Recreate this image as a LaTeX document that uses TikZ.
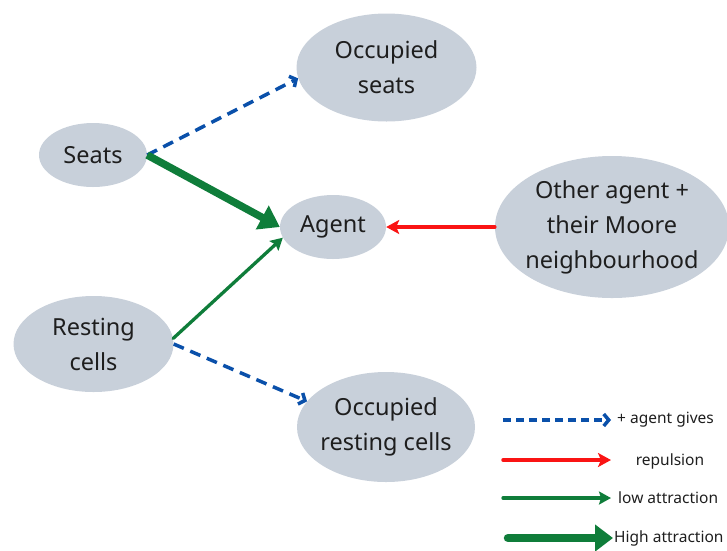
\documentclass[tikz,border=0pt]{standalone}
\usepackage{fontspec}
\setmainfont{Noto Sans}
\usetikzlibrary{shapes.geometric,arrows.meta}
\definecolor{ellfill}{RGB}{200,208,218}
\definecolor{myblue}{RGB}{10,80,170}
\definecolor{mygreen}{RGB}{15,125,58}
\definecolor{myred}{RGB}{250,20,20}
\definecolor{txt}{RGB}{30,30,30}
\begin{document}
\begin{tikzpicture}[x=1pt,y=-1pt,
  bub/.style={ellipse, fill=ellfill, draw=none, inner xsep=-6pt, inner ysep=0pt,
    text=txt, font=\fontsize{23.5}{35}\selectfont, align=center},
  legtext/.style={text=txt, font=\fontsize{15.5}{18}\selectfont, inner sep=0pt},
  dasharrow/.style={draw=myblue, line width=3.5pt, dash pattern=on 11pt off 7pt,
    -{Straight Barb[length=5pt,width=12pt]}},
  dashleg/.style={draw=myblue, line width=3.5pt, dash pattern=on 8pt off 5pt,
    -{Straight Barb[length=5pt,width=12pt]}},
  redarrow/.style={draw=myred, line width=3.5pt, line cap=round,
    -{Stealth[length=13pt,width=14pt,inset=3pt]}},
  thingreen/.style={draw=mygreen, line width=3.3pt, line cap=round,
    -{Stealth[length=12pt,width=13pt,inset=2pt]}},
  thickgreen/.style={draw=mygreen, line width=7.5pt,
    -{Triangle[length=20pt,width=26pt]}},
  thickleg/.style={draw=mygreen, line width=8.5pt, line cap=round,
    -{Triangle[length=18pt,width=26pt]}}
]
\useasboundingbox (0,0) rectangle (727,550);

% bubbles
\node[bub, minimum width=108pt, minimum height=64pt] (seats) at (93,155) {Seats};
\node[bub, minimum width=180pt, minimum height=108pt] (occseats) at (386.5,67.5) {Occupied\\seats};
\node[bub, minimum width=106pt, minimum height=64pt] (agent) at (333,227) {Agent};
\node[bub, minimum width=234pt, minimum height=142pt] (other) at (612,227) {Other agent +\\their Moore\\neighbourhood};
\node[bub, minimum width=160pt, minimum height=96pt] (rest) at (93.5,344) {Resting\\cells};
\node[bub, minimum width=178pt, minimum height=110pt] (occrest) at (386,427) {Occupied\\resting cells};

% connectors
\draw[dasharrow] (seats.east) -- (occseats.187);
\draw[thickgreen] (seats.east) -- (agent.west);
\draw[thingreen] (rest.4) -- (agent.192);
\draw[dasharrow] (rest.east) -- (occrest.162);
\draw[redarrow] (other.west) -- (agent.east);

% legend
\coordinate (l1a) at (503,420); \coordinate (l1b) at (611,420);
\coordinate (l2a) at (503,460); \coordinate (l2b) at (611,460);
\coordinate (l3a) at (503,498); \coordinate (l3b) at (611,498);
\coordinate (l4a) at (508,538); \coordinate (l4b) at (613,538);
\draw[dashleg] (l1a) -- (l1b);
\draw[redarrow] (l2a) -- (l2b);
\draw[thingreen] (l3a) -- (l3b);
\draw[thickleg] (l4a) -- (l4b);
\node[legtext, anchor=west] (t1) at (617,420) {+ agent gives};
\node[legtext] (t2) at (670,461) {repulsion};
\node[legtext, anchor=west] (t3) at (618,498) {low attraction};
\node[legtext, anchor=west] (t4) at (614,538) {High attraction};
\end{tikzpicture}
\end{document}
